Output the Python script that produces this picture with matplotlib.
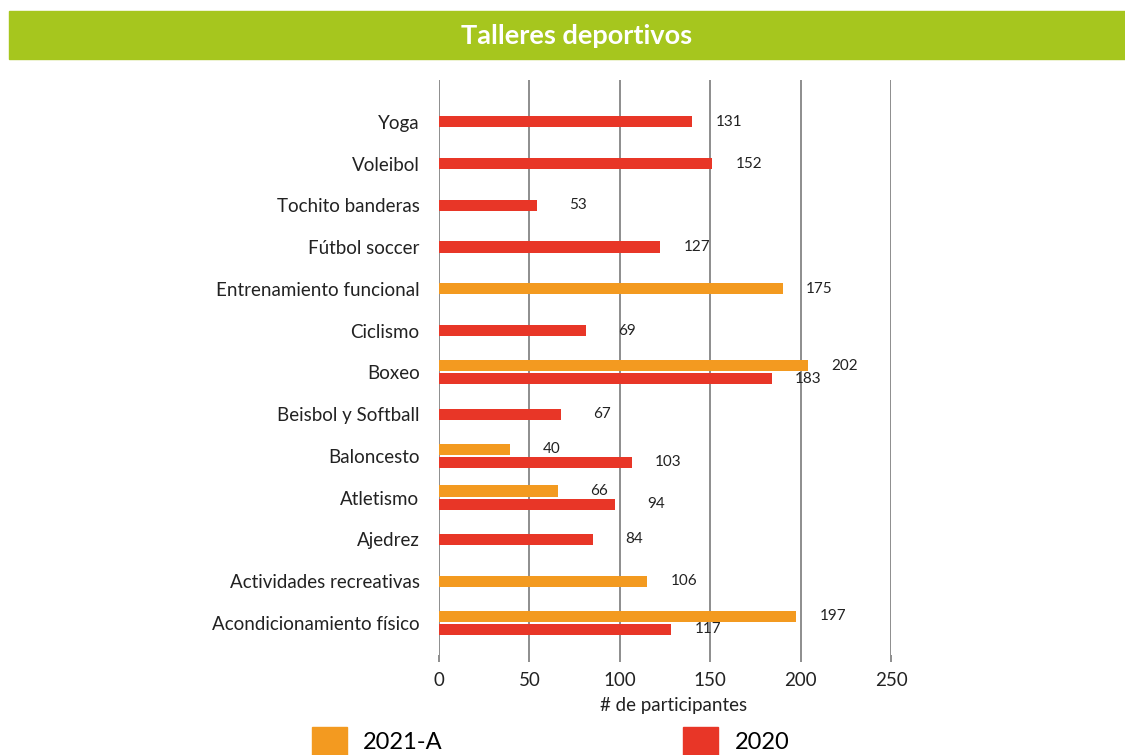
import matplotlib
matplotlib.use('Agg')
import matplotlib.pyplot as plt
from matplotlib.patches import Rectangle, Patch
import numpy as np

plt.rcParams['font.family'] = ['Lato', 'DejaVu Sans']

# categories top to bottom
talleres = ['Yoga', 'Voleibol', 'Tochito banderas', 'Fútbol soccer',
            'Entrenamiento funcional', 'Ciclismo', 'Boxeo', 'Beisbol y Softball',
            'Baloncesto', 'Atletismo', 'Ajedrez', 'Actividades recreativas',
            'Acondicionamiento físico']
# bar lengths as drawn in the picture
barras_2021 = [None, None, None, None, 190, None, 204, None, 39.5, 66, None, 115, 197.5]
barras_2020 = [140, 151, 54, 122.5, None, 81.5, 184, 67.5, 106.5, 97.5, 85, None, 128.5]
# printed values
etiq_2021 = [None, None, None, None, 175, None, 202, None, 40, 66, None, 106, 197]
etiq_2020 = [131, 152, 53, 127, None, 69, 183, 67, 103, 94, 84, None, 117]

naranja = '#F39A20'
rojo = '#E83627'
verde = '#A6C61E'
gris = '#858585'

fig = plt.figure(figsize=(11.25, 7.55), dpi=100)
ax = fig.add_axes([439/1125, 1-655/755, (891-439)/1125, (655-80)/755])

n = len(talleres)
h = 0.265
d = 0.158
for i in range(n):
    y = n - 1 - i
    a = barras_2021[i]
    b = barras_2020[i]
    both = a is not None and b is not None
    if a is not None:
        ya = y + d if both else y
        ax.barh(ya, a, height=h, color=naranja, zorder=3)
        ax.annotate(str(etiq_2021[i]), (a, ya), xytext=(36, 0), textcoords='offset points',
                    ha='right', va='center', fontsize=11, color='#222222')
    if b is not None:
        yb = y - d if both else y
        ax.barh(yb, b, height=h, color=rojo, zorder=3)
        ax.annotate(str(etiq_2020[i]), (b, yb), xytext=(36, 0), textcoords='offset points',
                    ha='right', va='center', fontsize=11, color='#222222')

ax.set_xlim(0, 250)
ax.set_ylim(-0.77, n - 1 + 1.0)
ax.set_xticks([0, 50, 100, 150, 200, 250])
ax.set_yticks(range(n))
ax.set_yticklabels(talleres[::-1], fontsize=13.5, color='#222222')
ax.tick_params(axis='y', length=0, pad=14)
ax.tick_params(axis='x', length=5, width=1.3, color=gris, labelsize=13.5, pad=7, labelcolor='#222222')
ax.grid(axis='x', color=gris, linewidth=1.3, zorder=0)
for s in ax.spines.values():
    s.set_visible(False)

fig.text(674/1125, 1-705/755, '# de participantes', ha='center', va='center', fontsize=13.5, color='#222222')

# banner
fig.patches.append(Rectangle((9/1125, 1-59/755), (1125-9)/1125, 48/755,
                             transform=fig.transFigure, color=verde, zorder=0))
fig.text(577/1125, 1-36/755, 'Talleres deportivos', ha='center', va='center',
         fontsize=19.5, fontweight='bold', color='white')

handles = [Patch(color=naranja), Patch(color=rojo)]
fig.legend(handles, ['2021-A', '2020'], loc='upper left', bbox_to_anchor=(312/1125, 1-727/755),
           ncol=2, frameon=False, fontsize=17, handlelength=1.48, handleheight=1.48,
           handletextpad=0.68, columnspacing=10.2, borderpad=0, borderaxespad=0)

fig.savefig('out.png', dpi=100)
